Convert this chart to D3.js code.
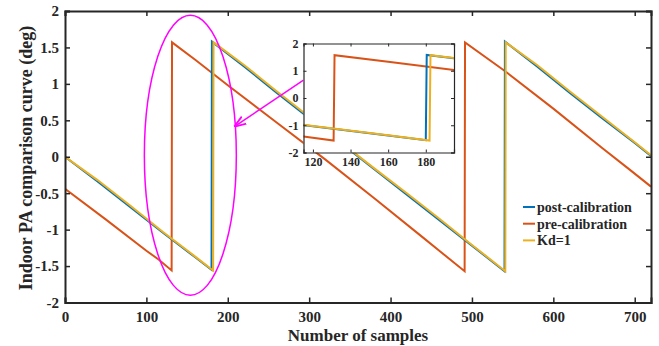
<!DOCTYPE html>
<html>
<head>
<meta charset="utf-8">
<script src="https://cdn.jsdelivr.net/npm/d3@7"></script>
<style>
  body { margin: 0; background: #fff; }
  svg text { font-family: "Liberation Serif", "Times New Roman", serif !important; font-weight: bold; fill: #262626; }
</style>
</head>
<body>
<div id="chart"></div>
<script>
// post-calibration (blue)
const postX = [0, 40, 80, 120, 160, 180, 180.5, 220, 260, 300, 340, 380, 420, 460, 500, 540, 540.5, 580, 620, 660, 700, 720];
const postY = [0, -0.34, -0.69, -1.04, -1.38, -1.55, 1.58, 1.24, 0.88, 0.53, 0.18, -0.17, -0.52, -0.87, -1.22, -1.57, 1.58, 1.24, 0.88, 0.53, 0.19, 0.01];
// pre-calibration (red)
const preX = [0, 50, 100, 115, 131, 131.5, 160, 200, 260, 320, 380, 440, 461, 491, 491.5, 540, 600, 660, 693, 720];
const preY = [-0.44, -0.86, -1.29, -1.41, -1.56, 1.57, 1.33, 0.98, 0.47, -0.04, -0.57, -1.11, -1.30, -1.57, 1.57, 1.18, 0.66, 0.12, -0.17, -0.41];
// Kd=1 (yellow)
const kdX = [0, 40, 80, 120, 160, 182, 182.5, 220, 260, 300, 340, 380, 420, 460, 500, 541, 541.5, 580, 620, 660, 700, 720];
const kdY = [0, -0.32, -0.67, -1.03, -1.37, -1.56, 1.57, 1.26, 0.90, 0.55, 0.19, -0.16, -0.50, -0.85, -1.21, -1.57, 1.57, 1.26, 0.90, 0.55, 0.20, 0.02];

const seriesNames = ["post-calibration", "pre-calibration", "Kd=1"];
const seriesColors = ["#0072BD", "#D95319", "#EDB120"];

const xTicks = [0, 100, 200, 300, 400, 500, 600, 700];
const yTicks = [-2, -1.5, -1, -0.5, 0, 0.5, 1, 1.5, 2];
const insetXTicks = [120, 140, 160, 180];
const insetYTicks = [-2, -1, 0, 1, 2];

const width = 659, height = 346;
const m = { left: 65, right: 8, top: 11, bottom: 43.5 };
const serif = "Liberation Serif";

const series = [
  { name: seriesNames[0], color: seriesColors[0], pts: postX.map((x, i) => [x, postY[i]]) },
  { name: seriesNames[1], color: seriesColors[1], pts: preX.map((x, i) => [x, preY[i]]) },
  { name: seriesNames[2], color: seriesColors[2], pts: kdX.map((x, i) => [x, kdY[i]]) }
];

const fmt = d => String(d); // plain hyphen minus, like the original

const svg = d3.select("#chart").append("svg")
  .attr("width", width)
  .attr("height", height);

const x = d3.scaleLinear().domain([0, 720]).range([m.left, width - m.right]);
const y = d3.scaleLinear().domain([-2, 2]).range([height - m.bottom, m.top]);

svg.append("defs").append("clipPath").attr("id", "clipMain")
  .append("rect").attr("x", x(0)).attr("y", y(2)).attr("width", x(720) - x(0)).attr("height", y(-2) - y(2));

const line = d3.line().x(d => x(d[0])).y(d => y(d[1]));

const main = svg.append("g").attr("clip-path", "url(#clipMain)");
[1, 0, 2].forEach(i => {
  main.append("path")
    .attr("d", line(series[i].pts))
    .attr("fill", "none")
    .attr("stroke", series[i].color)
    .attr("stroke-width", 2);
});

// axes (box with inward ticks)
const axisColor = "#262626";
const gx = svg.append("g").attr("transform", `translate(0,${y(-2)})`)
  .call(d3.axisBottom(x).tickValues(xTicks).tickSize(-5).tickPadding(9).tickFormat(fmt));
const gxt = svg.append("g").attr("transform", `translate(0,${y(2)})`)
  .call(d3.axisTop(x).tickValues(xTicks).tickSize(-5).tickFormat(""));
const gy = svg.append("g").attr("transform", `translate(${x(0)},0)`)
  .call(d3.axisLeft(y).tickValues(yTicks).tickSize(-5).tickPadding(6).tickFormat(fmt));
const gyr = svg.append("g").attr("transform", `translate(${x(720)},0)`)
  .call(d3.axisRight(y).tickValues(yTicks).tickSize(-5).tickFormat(""));
[gx, gxt, gy, gyr].forEach(g => {
  g.attr("font-family", serif).attr("font-weight", "bold").attr("font-size", 15);
  g.select(".domain").attr("stroke", axisColor).attr("stroke-width", 2);
  g.selectAll(".tick line").attr("stroke", axisColor).attr("stroke-width", 1.5);
  g.selectAll("text").style("font-size", "15px").attr("fill", axisColor);
});

svg.append("text")
  .attr("x", (x(0) + x(720)) / 2)
  .attr("y", 341)
  .attr("text-anchor", "middle")
  .style("font-size", "17px")
  .text("Number of samples");

svg.append("text")
  .attr("transform", `translate(32,158) rotate(-90)`)
  .attr("text-anchor", "middle")
  .style("font-size", "18px")
  .text("Indoor PA comparison curve (deg)");

// ellipse and arrow
const magenta = "#FF00FF";
svg.append("ellipse")
  .attr("cx", x(154)).attr("cy", y(0.02))
  .attr("rx", x(56.5) - x(0)).attr("ry", y(0) - y(1.92))
  .attr("fill", "none").attr("stroke", magenta).attr("stroke-width", 1.5);

svg.select("defs").append("marker")
  .attr("id", "arrow").attr("viewBox", "0 0 10 10")
  .attr("refX", 9).attr("refY", 5)
  .attr("markerWidth", 8).attr("markerHeight", 8)
  .attr("orient", "auto")
  .append("path").attr("d", "M0,1.5 L10,5 L0,8.5").attr("fill", "none").attr("stroke", magenta).attr("stroke-width", 1.5);

svg.append("line")
  .attr("x1", x(293)).attr("y1", y(1.05))
  .attr("x2", x(209)).attr("y2", y(0.42))
  .attr("stroke", magenta).attr("stroke-width", 1.5)
  .attr("marker-end", "url(#arrow)");

// inset
const ix = d3.scaleLinear().domain([115, 195]).range([303.5, 454]);
const iy = d3.scaleLinear().domain([-2, 2]).range([152.5, 43.5]);

svg.append("rect")
  .attr("x", ix(115)).attr("y", iy(2))
  .attr("width", ix(195) - ix(115)).attr("height", iy(-2) - iy(2))
  .attr("fill", "#fff");

svg.select("defs").append("clipPath").attr("id", "clipInset")
  .append("rect").attr("x", ix(115)).attr("y", iy(2)).attr("width", ix(195) - ix(115)).attr("height", iy(-2) - iy(2));

const iline = d3.line().x(d => ix(d[0])).y(d => iy(d[1]));
const inset = svg.append("g").attr("clip-path", "url(#clipInset)");
[1, 0, 2].forEach(i => {
  inset.append("path")
    .attr("d", iline(series[i].pts))
    .attr("fill", "none")
    .attr("stroke", series[i].color)
    .attr("stroke-width", 2);
});

const ig = [
  svg.append("g").attr("transform", `translate(0,${iy(-2)})`)
    .call(d3.axisBottom(ix).tickValues(insetXTicks).tickSize(-3).tickPadding(5).tickFormat(fmt)),
  svg.append("g").attr("transform", `translate(0,${iy(2)})`)
    .call(d3.axisTop(ix).tickValues(insetXTicks).tickSize(-3).tickFormat("")),
  svg.append("g").attr("transform", `translate(${ix(115)},0)`)
    .call(d3.axisLeft(iy).tickValues(insetYTicks).tickSize(-3).tickPadding(5).tickFormat(fmt)),
  svg.append("g").attr("transform", `translate(${ix(195)},0)`)
    .call(d3.axisRight(iy).tickValues(insetYTicks).tickSize(-3).tickFormat(""))
];
ig.forEach(g => {
  g.attr("font-family", serif).attr("font-weight", "bold").attr("font-size", 12);
  g.select(".domain").attr("stroke", axisColor).attr("stroke-width", 1.2);
  g.selectAll(".tick line").attr("stroke", axisColor).attr("stroke-width", 1);
  g.selectAll("text").style("font-size", "12px").attr("fill", axisColor);
});

// legend
const legend = svg.append("g").attr("transform", "translate(523,207)");
seriesNames.forEach((name, i) => {
  const row = legend.append("g").attr("transform", `translate(0,${i * 16.7})`);
  row.append("line").attr("x1", 0).attr("x2", 12).attr("y1", 0).attr("y2", 0)
    .attr("stroke", seriesColors[i]).attr("stroke-width", 2);
  row.append("text").attr("x", 14).attr("y", 5).style("font-size", "14px").text(name);
});
</script>
</body>
</html>
